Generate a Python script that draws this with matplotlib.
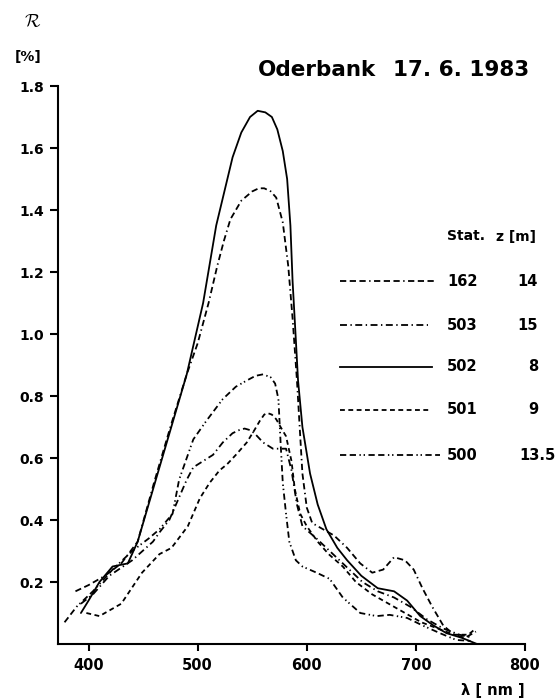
import matplotlib
matplotlib.use("Agg")
import matplotlib.pyplot as plt

plt.rcParams['font.family'] = ['DejaVu Sans']
plt.rcParams['font.weight'] = 'bold'
plt.rcParams['mathtext.fontset'] = 'cm'
plt.rcParams['lines.scale_dashes'] = False

# Reflectance spectra, Oderbank 17.6.1983 (wavelength nm, R in %)
wl_162 = [388, 400, 415, 430, 445, 460, 475, 490, 500, 510, 518, 524, 530, 540,
          550, 556, 561, 567, 572, 575, 578, 583, 587, 591, 596, 600, 605, 615,
          625, 637, 649, 660, 670, 680, 690, 698, 706, 715, 725, 735, 745, 755]
r_162 = [0.17, 0.19, 0.22, 0.26, 0.33, 0.52, 0.70, 0.87, 0.97, 1.10, 1.22, 1.30,
         1.37, 1.43, 1.46, 1.47, 1.47, 1.46, 1.44, 1.40, 1.36, 1.22, 1.05, 0.85,
         0.55, 0.44, 0.39, 0.37, 0.35, 0.31, 0.26, 0.23, 0.24, 0.28, 0.27, 0.24,
         0.18, 0.12, 0.06, 0.03, 0.02, 0.04]

wl_503 = [393, 404, 419, 440, 459, 465, 474, 490, 496, 505, 514, 523, 532, 538,
          543, 548, 552, 560, 569, 575, 581, 586, 591, 596, 609, 627, 639, 651,
          665, 680, 695, 710, 725, 740, 752]
r_503 = [0.13, 0.16, 0.22, 0.27, 0.33, 0.36, 0.40, 0.53, 0.57, 0.59, 0.61, 0.65,
         0.68, 0.69, 0.695, 0.69, 0.68, 0.65, 0.63, 0.63, 0.63, 0.56, 0.45, 0.38,
         0.34, 0.28, 0.24, 0.20, 0.17, 0.15, 0.12, 0.08, 0.05, 0.03, 0.02]

wl_502 = [393, 400, 410, 422, 436, 445, 455, 465, 475, 490, 505, 517, 532, 540,
          548, 555, 562, 568, 573, 578, 582, 585, 587, 590, 592, 596, 603, 610,
          618, 628, 637, 650, 665, 680, 692, 704, 716, 728, 742, 756]
r_502 = [0.10, 0.14, 0.20, 0.25, 0.26, 0.33, 0.45, 0.57, 0.69, 0.87, 1.10, 1.35,
         1.57, 1.65, 1.70, 1.72, 1.715, 1.70, 1.66, 1.59, 1.50, 1.35, 1.17, 0.98,
         0.85, 0.70, 0.55, 0.45, 0.37, 0.31, 0.27, 0.22, 0.18, 0.17, 0.14, 0.09,
         0.06, 0.035, 0.02, 0.0]

wl_501 = [398, 410, 430, 449, 465, 476, 491, 502, 511, 520, 527, 535, 545, 552,
          557, 561, 564, 568, 572, 576, 581, 586, 589, 594, 600, 610, 620, 633,
          645, 660, 675, 690, 705, 720, 735, 748, 755]
r_501 = [0.10, 0.09, 0.13, 0.23, 0.29, 0.31, 0.38, 0.47, 0.52, 0.56, 0.58, 0.61,
         0.65, 0.69, 0.72, 0.74, 0.745, 0.74, 0.725, 0.70, 0.67, 0.59, 0.50, 0.42,
         0.38, 0.33, 0.29, 0.25, 0.20, 0.16, 0.13, 0.10, 0.07, 0.05, 0.03, 0.03,
         0.05]

wl_500 = [378, 389, 404, 422, 440, 455, 465, 477, 483, 490, 496, 508, 523, 535,
          545, 553, 560, 567, 571, 574, 576, 578, 581, 584, 590, 596, 609, 621,
          633, 649, 664, 676, 692, 706, 722, 737, 750]
r_500 = [0.07, 0.12, 0.17, 0.24, 0.30, 0.34, 0.37, 0.42, 0.53, 0.60, 0.66, 0.72,
         0.79, 0.83, 0.85, 0.865, 0.87, 0.86, 0.84, 0.79, 0.65, 0.52, 0.42, 0.33,
         0.27, 0.25, 0.23, 0.21, 0.15, 0.10, 0.09, 0.094, 0.084, 0.06, 0.035,
         0.013, 0.01]

stations = ['162', '503', '502', '501', '500']
depths = ['14', '15', '8', '9', '13.5']

# dash patterns in points
styles = {
    '162': (0, (4.5, 2.5, 4.5, 2.5, 4.5, 2.5, 1.0, 2.5)),
    '503': (0, (5.0, 2.5, 1.0, 2.5)),
    '502': '-',
    '501': (0, (3.5, 2.5)),
    '500': (0, (4.5, 2.5, 4.5, 2.5, 1.0, 2.0, 1.0, 2.5)),
}
series = {
    '162': (wl_162, r_162),
    '503': (wl_503, r_503),
    '502': (wl_502, r_502),
    '501': (wl_501, r_501),
    '500': (wl_500, r_500),
}

W, H = 555, 700
fig = plt.figure(figsize=(W / 100, H / 100), dpi=100)
ax = fig.add_axes([58 / W, 1 - 644 / H, (525 - 58) / W, (644 - 86) / H])

for st in stations:
    x, y = series[st]
    ax.plot(x, y, color='black', lw=1.3, linestyle=styles[st],
            solid_capstyle='round', solid_joinstyle='round', dash_capstyle='butt')

ax.set_xlim(372, 800)
ax.set_ylim(0, 1.8)
ax.set_xticks([400, 500, 600, 700, 800])
ax.set_yticks([0.2, 0.4, 0.6, 0.8, 1.0, 1.2, 1.4, 1.6, 1.8])
ax.set_yticklabels(['0.2', '0.4', '0.6', '0.8', '1.0', '1.2', '1.4', '1.6', '1.8'])
for s in ['top', 'right']:
    ax.spines[s].set_visible(False)
for s in ['left', 'bottom']:
    ax.spines[s].set_linewidth(1.5)
ax.tick_params(axis='y', direction='out', length=6, width=1.5, pad=4, labelsize=10)
ax.tick_params(axis='x', direction='out', length=5, width=1.5, pad=5, labelsize=10.5)
for lab in ax.get_xticklabels() + ax.get_yticklabels():
    lab.set_fontweight('bold')


def fpos(px, py):
    return px / W, 1 - py / H


# axis captions and title
fig.text(*fpos(24, 22), r'$\mathcal{R}$', fontsize=13, ha='left', va='center')
fig.text(*fpos(15, 57), '[%]', fontsize=10, ha='left', va='center',
         fontweight='bold')
fig.text(*fpos(258, 70), 'Oderbank', fontsize=15.5, ha='left',
         va='center', fontweight='bold')
fig.text(*fpos(529, 70), '17. 6. 1983', fontsize=15.5, ha='right',
         va='center', fontweight='bold')
fig.text(*fpos(525, 690), 'λ [ nm ]', fontsize=10.5, ha='right', va='center',
         fontweight='bold')

# station legend
fig.text(*fpos(447, 236), 'Stat.', fontsize=10, ha='left', va='center',
         fontweight='bold')
fig.text(*fpos(496, 237), 'z [m]', fontsize=10, ha='left', va='center',
         fontweight='bold')
row_y = [281, 325, 367, 410, 455]
line_end = [437, 428, 432, 430, 440]
for st, z, py, xe in zip(stations, depths, row_y, line_end):
    x0, y0 = fpos(340, py)
    x1, _ = fpos(xe, py)
    fig.add_artist(plt.Line2D([x0, x1], [y0, y0], transform=fig.transFigure,
                              color='black', lw=1.3, linestyle=styles[st]))
    fig.text(*fpos(447, py), st, fontsize=10.5, ha='left', va='center',
             fontweight='bold')
    if '.' in z:
        fig.text(*fpos(519, py), z, fontsize=10.5, ha='left', va='center',
                 fontweight='bold')
    else:
        fig.text(*fpos(538, py), z, fontsize=10.5, ha='right', va='center',
                 fontweight='bold')

fig.savefig('out.png', dpi=100, facecolor='white')
